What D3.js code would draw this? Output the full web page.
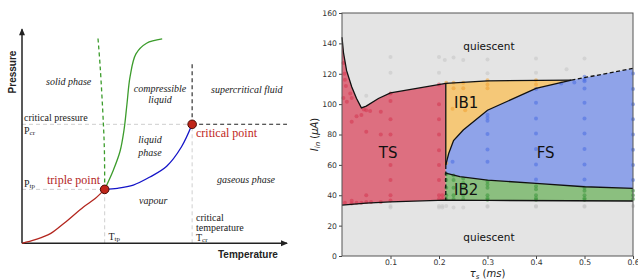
<!DOCTYPE html>
<html>
<head>
<meta charset="utf-8">
<script src="https://cdn.jsdelivr.net/npm/d3@7"></script>
<style>
  body { margin: 0; background: #fff; }
  svg { display: block; }
</style>
</head>
<body>
<div id="chart"></div>
<script>
// ---------- left panel: generic phase diagram (arbitrary T / P units 0..10) ----------
var sublimationCurve = [[0, 0], [0.5, 0.17], [1.07, 0.45], [1.6, 0.95], [2.32, 1.7], [2.75, 2.08], [3.12, 2.52]];
var vaporCurve = [[3.12, 2.52], [3.6, 2.57], [4.2, 2.72], [4.83, 3.1], [5.46, 3.6], [6.02, 4.51], [6.42, 5.56]];
var meltingCurve = [[3.12, 2.52], [3.45, 3.43], [3.7, 4.3], [3.85, 5.3], [3.96, 6.5], [4.08, 7.8], [4.3, 8.85], [4.7, 9.35], [5.29, 9.55]];
var meltingAnomalous = [[3.12, 2.52], [3.11, 4.3], [3.07, 5.61], [2.95, 8.25], [2.86, 9.69]];
var triplePoint = [3.12, 2.52];
var criticalPoint = [6.42, 5.56];

// ---------- right panel: regime map ----------
var xTicks = [0.1, 0.2, 0.3, 0.4, 0.5, 0.6];
var yTicks = [0, 20, 40, 60, 80, 100, 120, 140, 160];

var tsTop = [[0, 144], [0.003, 134], [0.0095, 122], [0.02, 111.4], [0.03, 103.7], [0.04, 97.5],
             [0.05, 98.7], [0.075, 103.7], [0.1, 107.4], [0.214, 113.6]];
var ib1Top = [[0.214, 113.6], [0.3, 115.3], [0.473, 115.8]];
var fsTopDashed = [[0.473, 115.8], [0.6, 123.5]];
var ib1FsBorder = [[0.214, 60], [0.22, 67.5], [0.23, 76], [0.25, 82.9], [0.3, 96], [0.4, 110.3], [0.473, 115.8]];
var ib2FsBorder = [[0.214, 54.5], [0.243, 52.2], [0.3, 50], [0.4, 47.8], [0.5, 45.6], [0.6, 44.5]];
var bottomLeft = [[0, 33.5], [0.05, 34.8], [0.1, 35.7], [0.214, 36.8]];
var bottomRight = [[0.214, 36.8], [0.3, 36.6], [0.6, 36.2]];

var quiescentDots = [[0.05, 105.5], [0.1, 131], [0.1, 120.6], [0.2, 131], [0.2, 120.6], [0.212, 129], [0.23, 130.7],
  [0.25, 129], [0.3, 129.4], [0.3, 120.4], [0.4, 130], [0.4, 120.6], [0.463, 123], [0.5, 130],
  [0.1, 33], [0.1, 32], [0.2, 33], [0.2, 32], [0.207, 33], [0.207, 32], [0.215, 33], [0.23, 32],
  [0.25, 32], [0.3, 33], [0.3, 32.5], [0.4, 33], [0.4, 32.5], [0.5, 33], [0.5, 32.5], [0.6, 33]];
var tsDots = [[0.003, 127], [0.005, 120], [0.006, 116], [0.008, 112], [0.003, 104], [0.01, 101.5], [0.017, 107],
  [0.02, 104], [0.02, 88.4], [0.03, 92], [0.04, 92.8], [0.045, 96.5], [0.05, 96], [0.058, 95.4], [0.08, 95],
  [0.1, 102], [0.1, 107], [0.05, 81.8], [0.08, 80], [0.1, 80], [0.1, 90], [0.1, 60], [0.1, 50], [0.1, 40],
  [0.05, 40], [0.02, 36.4], [0.006, 35], [0.02, 34.5], [0.03, 35], [0.04, 35], [0.05, 35.5], [0.06, 35.5],
  [0.08, 35.5], [0.1, 36.5], [0.2, 113], [0.2, 100], [0.2, 90], [0.2, 80], [0.2, 69.7], [0.2, 60],
  [0.2, 50], [0.2, 40], [0.2, 37.5], [0.207, 37.5], [0.207, 40]];
var ib1Dots = [[0.215, 114], [0.23, 114], [0.23, 110.5], [0.25, 114], [0.25, 110.5], [0.3, 115.8], [0.3, 113],
  [0.3, 110.5], [0.4, 115.8], [0.4, 113], [0.228, 97], [0.254, 96], [0.215, 61]];
var fsDots = [[0.228, 62], [0.3, 93], [0.3, 91], [0.3, 89], [0.3, 80.3], [0.3, 70.2], [0.3, 62],
  [0.4, 110], [0.4, 100.9], [0.4, 90.6], [0.4, 80.7], [0.4, 70.4], [0.4, 60.3], [0.4, 50.4],
  [0.452, 113.5], [0.479, 114.2], [0.5, 118], [0.5, 116], [0.5, 115], [0.5, 110.3], [0.5, 100.9],
  [0.5, 90.6], [0.5, 80.7], [0.5, 70.4], [0.5, 60.3], [0.5, 50.4],
  [0.6, 120.2], [0.6, 110], [0.6, 100], [0.6, 90], [0.6, 80], [0.6, 70], [0.6, 60], [0.6, 50]];
var ib2Dots = [[0.215, 54], [0.215, 50], [0.215, 45], [0.215, 40], [0.215, 37.5],
  [0.23, 53], [0.23, 50], [0.23, 45], [0.23, 40], [0.23, 37.5],
  [0.25, 51], [0.25, 48], [0.25, 45], [0.25, 40], [0.25, 37.5],
  [0.3, 49], [0.3, 47], [0.3, 45], [0.3, 40], [0.3, 38], [0.3, 37],
  [0.4, 46], [0.4, 44], [0.4, 40], [0.4, 38], [0.4, 37],
  [0.5, 45], [0.5, 43], [0.5, 40], [0.5, 38], [0.5, 37],
  [0.6, 43], [0.6, 40], [0.6, 37.5]];

var svg = d3.select("#chart").append("svg")
    .attr("width", 638)
    .attr("height", 280);

// ================= left panel =================
var tScale = d3.scaleLinear().domain([0, 10]).range([22, 287]);
var pScale = d3.scaleLinear().domain([0, 10]).range([243.3, 29.3]);

var left = svg.append("g");
var serif = "'Liberation Serif', 'DejaVu Serif', serif";

var phaseLine = d3.line()
    .x(d => tScale(d[0]))
    .y(d => pScale(d[1]))
    .curve(d3.curveCatmullRom);

// light grey guide lines
var guides = [
  [[0, triplePoint[1]], triplePoint], [[triplePoint[0], 0], triplePoint],
  [[0, criticalPoint[1]], criticalPoint], [[criticalPoint[0], 0], criticalPoint]
];
guides.forEach(function(g) {
  left.append("path")
      .attr("d", d3.line().x(d => tScale(d[0])).y(d => pScale(d[1]))(g))
      .attr("stroke", "#cfcfcf")
      .attr("stroke-width", 1)
      .attr("stroke-dasharray", "4,3")
      .attr("fill", "none");
});

// black dashed limits of supercritical region
left.append("path")
    .attr("d", d3.line().x(d => tScale(d[0])).y(d => pScale(d[1]))([criticalPoint, [10, criticalPoint[1]]]))
    .attr("stroke", "#222").attr("stroke-width", 1.1).attr("stroke-dasharray", "4,3").attr("fill", "none");
left.append("path")
    .attr("d", d3.line().x(d => tScale(d[0])).y(d => pScale(d[1]))([criticalPoint, [criticalPoint[0], 8.46]]))
    .attr("stroke", "#222").attr("stroke-width", 1.1).attr("stroke-dasharray", "4,3").attr("fill", "none");

// axes with arrows
left.append("line")
    .attr("x1", tScale(0)).attr("y1", pScale(0))
    .attr("x2", tScale(10)).attr("y2", pScale(0))
    .attr("stroke", "#222").attr("stroke-width", 1.5);
left.append("line")
    .attr("x1", tScale(0)).attr("y1", pScale(0))
    .attr("x2", tScale(0)).attr("y2", pScale(10))
    .attr("stroke", "#222").attr("stroke-width", 1.5);
left.append("path")
    .attr("d", `M${tScale(10) + 1},${pScale(0)} l-7,-3 l0,6 z`)
    .attr("fill", "#222");
left.append("path")
    .attr("d", `M${tScale(0)},${pScale(10) - 1} l-3,7 l6,0 z`)
    .attr("fill", "#222");

// phase boundaries
left.append("path").attr("d", phaseLine(sublimationCurve))
    .attr("stroke", "#b3261e").attr("stroke-width", 1.3).attr("fill", "none");
left.append("path").attr("d", phaseLine(vaporCurve))
    .attr("stroke", "#1414c8").attr("stroke-width", 1.3).attr("fill", "none");
left.append("path").attr("d", phaseLine(meltingCurve))
    .attr("stroke", "#3c9c2c").attr("stroke-width", 1.3).attr("fill", "none");
left.append("path").attr("d", phaseLine(meltingAnomalous))
    .attr("stroke", "#3c9c2c").attr("stroke-width", 1.3).attr("stroke-dasharray", "4,3").attr("fill", "none");

[triplePoint, criticalPoint].forEach(function(p) {
  left.append("circle")
      .attr("cx", tScale(p[0])).attr("cy", pScale(p[1]))
      .attr("r", 4.3)
      .attr("fill", "#c0261a")
      .attr("stroke", "#4a0d08")
      .attr("stroke-width", 1);
});

function leftText(x, y, str, opts) {
  opts = opts || {};
  return left.append("text")
      .attr("x", x).attr("y", y)
      .attr("font-family", opts.family || serif)
      .attr("font-size", opts.size || 10)
      .attr("font-style", opts.italic ? "italic" : "normal")
      .attr("font-weight", opts.bold ? "bold" : "normal")
      .attr("fill", opts.color || "#222")
      .attr("text-anchor", opts.anchor || "start")
      .text(str);
}

leftText(46, 85, "solid phase", {italic: true});
leftText(160, 91.5, "compressible", {italic: true, anchor: "middle"});
leftText(160, 102.5, "liquid", {italic: true, anchor: "middle"});
leftText(211, 93, "supercritical fluid", {italic: true});
leftText(24, 121, "critical pressure");
leftText(196, 137, "critical point", {size: 12, color: "#c0261a"});
leftText(150, 143, "liquid", {italic: true, anchor: "middle"});
leftText(150, 155.5, "phase", {italic: true, anchor: "middle"});
leftText(47, 183.5, "triple point", {size: 12, color: "#b3261e"});
leftText(217, 182.5, "gaseous phase", {italic: true});
leftText(139, 204, "vapour", {italic: true});
leftText(196, 220.5, "critical");
leftText(196, 230.5, "temperature");

var pcr = leftText(24, 134, "P");
pcr.append("tspan").attr("font-size", 7).attr("dy", 1).text("cr");
var ptp = leftText(24, 187, "P");
ptp.append("tspan").attr("font-size", 7).attr("dy", 1).text("tp");
var tcr = leftText(196, 241, "T");
tcr.append("tspan").attr("font-size", 7).attr("dy", 1).text("cr");
var ttp = leftText(108.5, 239.5, "T");
ttp.append("tspan").attr("font-size", 7).attr("dy", 1).text("tp");

leftText(218, 257.5, "Temperature", {family: "'Liberation Sans', Arial, sans-serif", bold: true});
left.append("text")
    .attr("transform", "translate(15.5, 72) rotate(-90)")
    .attr("font-family", "'Liberation Sans', Arial, sans-serif")
    .attr("font-size", 10)
    .attr("font-weight", "bold")
    .attr("text-anchor", "middle")
    .attr("fill", "#222")
    .text("Pressure");

// ================= right panel =================
var xScale = d3.scaleLinear().domain([0, 0.6]).range([342, 633]);
var yScale = d3.scaleLinear().domain([0, 160]).range([256, 13]);
var right = svg.append("g");
var sans = "'DejaVu Sans', sans-serif";

var regimeLine = d3.line()
    .x(d => xScale(d[0]))
    .y(d => yScale(d[1]));

right.append("rect")
    .attr("x", xScale(0)).attr("y", yScale(160))
    .attr("width", xScale(0.6) - xScale(0))
    .attr("height", yScale(0) - yScale(160))
    .attr("fill", "#e4e4e4");

var regions = [
  {pts: tsTop.concat(bottomLeft.slice().reverse()), fill: "#dd6f80"},
  {pts: ib1Top.concat(ib1FsBorder.slice().reverse()), fill: "#f5c878"},
  {pts: ib1FsBorder.concat([[0.6, 123.5]], ib2FsBorder.slice().reverse()), fill: "#8fa3e9"},
  {pts: ib2FsBorder.concat(bottomRight.slice().reverse()), fill: "#8bbf7f"}
];
regions.forEach(function(r) {
  right.append("path")
      .attr("d", regimeLine(r.pts) + "Z")
      .attr("fill", r.fill);
});

var dotSets = [
  {data: quiescentDots, color: "#c4c4c4"},
  {data: tsDots, color: "#d3354e"},
  {data: ib1Dots, color: "#f0a030"},
  {data: fsDots, color: "#4a6de2"},
  {data: ib2Dots, color: "#3a963a"}
];
dotSets.forEach(function(s) {
  right.append("g").selectAll("circle")
      .data(s.data)
      .enter()
      .append("circle")
      .attr("cx", d => xScale(d[0]))
      .attr("cy", d => yScale(d[1]))
      .attr("r", 2)
      .attr("fill", s.color)
      .attr("opacity", 0.55);
});

var solidBorders = [tsTop.concat(ib1Top.slice(1)), ib1FsBorder, ib2FsBorder, bottomLeft.concat(bottomRight.slice(1)),
                    [[0.214, 113.6], [0.214, 60]]];
solidBorders.forEach(function(b) {
  right.append("path")
      .attr("d", regimeLine(b))
      .attr("stroke", "#111").attr("stroke-width", 1.3).attr("fill", "none");
});
[fsTopDashed, [[0.214, 60], [0.214, 36.8]]].forEach(function(b) {
  right.append("path")
      .attr("d", regimeLine(b))
      .attr("stroke", "#111").attr("stroke-width", 1.3)
      .attr("stroke-dasharray", "4,2.5").attr("fill", "none");
});

function regionText(x, y, str, size) {
  right.append("text")
      .attr("x", xScale(x)).attr("y", yScale(y))
      .attr("font-family", sans)
      .attr("font-size", size)
      .attr("text-anchor", "middle")
      .attr("fill", "#111")
      .text(str);
}
regionText(0.303, 135.4, "quiescent", 10.5);
regionText(0.303, 10, "quiescent", 10.5);
regionText(0.095, 64.8, "TS", 15);
regionText(0.256, 97.7, "IB1", 15);
regionText(0.42, 64.8, "FS", 15);
regionText(0.256, 40.1, "IB2", 15);

// axes
var xAxis = right.append("g")
    .attr("transform", `translate(0, ${yScale(0)})`)
    .call(d3.axisBottom(xScale).tickValues(xTicks).tickSize(3).tickPadding(1).tickFormat(d3.format(".1f")));
var yAxis = right.append("g")
    .attr("transform", `translate(${xScale(0)}, 0)`)
    .call(d3.axisLeft(yScale).tickValues(yTicks).tickSize(3).tickPadding(2).tickFormat(d3.format("d")));
[xAxis, yAxis].forEach(function(a) {
  a.select(".domain").remove();
  a.selectAll("line").attr("stroke", "#444");
  a.selectAll("text")
      .attr("font-family", sans)
      .attr("font-size", 7.7)
      .attr("fill", "#333");
});

right.append("rect")
    .attr("x", xScale(0)).attr("y", yScale(160))
    .attr("width", xScale(0.6) - xScale(0))
    .attr("height", yScale(0) - yScale(160))
    .attr("fill", "none")
    .attr("stroke", "#555")
    .attr("stroke-width", 1);

var xLabel = right.append("text")
    .attr("x", (xScale(0) + xScale(0.6)) / 2)
    .attr("y", 277)
    .attr("font-family", sans)
    .attr("font-size", 10)
    .attr("text-anchor", "middle")
    .attr("fill", "#222");
xLabel.append("tspan").attr("font-style", "italic").text("τ");
xLabel.append("tspan").attr("font-style", "italic").attr("font-size", 7).attr("dy", 1.5).text("s");
xLabel.append("tspan").attr("dy", -1.5).text(" (");
xLabel.append("tspan").attr("font-style", "italic").text("ms");
xLabel.append("tspan").text(")");

var yLabel = right.append("text")
    .attr("transform", `translate(317.5, ${(yScale(0) + yScale(160)) / 2}) rotate(-90)`)
    .attr("font-family", sans)
    .attr("font-size", 10)
    .attr("text-anchor", "middle")
    .attr("fill", "#222");
yLabel.append("tspan").attr("font-style", "italic").text("I");
yLabel.append("tspan").attr("font-style", "italic").attr("font-size", 7).attr("dy", 2).text("in");
yLabel.append("tspan").attr("dy", -2).text(" (");
yLabel.append("tspan").attr("font-style", "italic").text("μA");
yLabel.append("tspan").text(")");
</script>
</body>
</html>
